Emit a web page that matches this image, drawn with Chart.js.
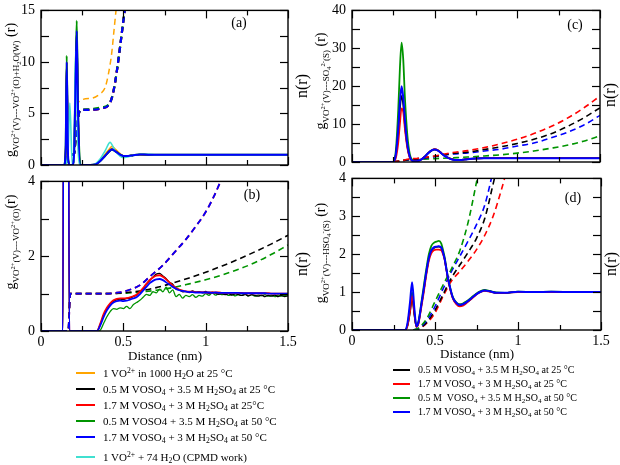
<!DOCTYPE html>
<html><head><meta charset="utf-8">
<script src="https://cdn.jsdelivr.net/npm/chart.js@4.4.1/dist/chart.umd.min.js"></script>
<style>
html,body{margin:0;padding:0;background:#fff;}
#wrap{position:relative;width:620px;height:465px;overflow:hidden;background:#fff;font-family:"Liberation Serif",serif;color:#000;}
#wrap div{font-family:"Liberation Serif",serif;}
canvas{position:absolute;}
.t{position:absolute;white-space:nowrap;line-height:1;}
.rot{transform:translate(-50%,-50%) rotate(-90deg);}
.ctr{transform:translate(-50%,-50%);}
.yt{font-size:14px;}
.yt .sb{font-size:9px;position:relative;top:4px;}
.yt .sb sup,.yt .sb sub{font-size:6.5px;vertical-align:0;position:relative;}
.yt .sb sup{top:-4px;}
.yt .sb sub{top:2px;}
.nr{font-size:16px;}
.pl{font-size:14px;}
.xt{font-size:13px;}
.lg{position:absolute;white-space:nowrap;line-height:1;transform:translateY(-50%);}
.lg sub,.lg sup{vertical-align:0;position:relative;font-size:0.7em;}
.lg sub{top:2px;}
.lg sup{top:-4px;}
.sw{position:absolute;height:2px;}
</style>
</head><body>
<div id="wrap">
<canvas id="ca"></canvas>
<canvas id="cb"></canvas>
<canvas id="cc"></canvas>
<canvas id="cd"></canvas>

<div class="t rot yt" style="left:11px;top:90px;">g<span class="sb">VO<sup>2+</sup>(V)---VO<sup>2+</sup>(O)+H<sub>2</sub>O(W)</span> (r)</div>
<div class="t rot yt" style="left:11px;top:242px;">g<span class="sb">VO<sup>2+</sup>(V)---VO<sup>2+</sup>(O)</span>(r)</div>
<div class="t rot yt" style="left:321px;top:81px;">g<span class="sb">VO<sup>2+</sup>(V)---SO<sub>4</sub><sup>2-</sup>(S)</span> (r)</div>
<div class="t rot yt" style="left:321px;top:253px;">g<span class="sb">VO<sup>2+</sup>(V)---HSO<sub>4</sub><sup>-</sup>(S)</span> (r)</div>

<div class="t rot nr" style="left:302px;top:86px;">n(r)</div>
<div class="t rot nr" style="left:302px;top:264px;">n(r)</div>
<div class="t rot nr" style="left:610px;top:95px;">n(r)</div>
<div class="t rot nr" style="left:611px;top:264px;">n(r)</div>

<div class="t ctr pl" style="left:239px;top:23px;">(a)</div>
<div class="t ctr pl" style="left:252px;top:195px;">(b)</div>
<div class="t ctr pl" style="left:575px;top:25px;">(c)</div>
<div class="t ctr pl" style="left:573px;top:198px;">(d)</div>

<div class="t ctr xt" style="left:165px;top:355px;">Distance (nm)</div>
<div class="t ctr xt" style="left:477px;top:353px;">Distance (nm)</div>

<div id="legL"></div>
<div id="legR"></div>
</div>

<script>
// ---------- tick values / labels ----------
const X_TICKS = [0, 0.5, 1, 1.5];
const X_TICK_LABELS = ['0', '0.5', '1', '1.5'];
const X_MINOR = [0.25, 0.75, 1.25];
const A_Y_TICKS = [0, 5, 10, 15];
const A_Y_LABELS = ['0', '5', '10', '15'];
const A_Y_MINOR = [2.5, 7.5, 12.5];
const B_Y_TICKS = [0, 2, 4];
const B_Y_LABELS = ['0', '2', '4'];
const B_Y_MINOR = [1, 3];
const C_Y_TICKS = [0, 10, 20, 30, 40];
const C_Y_LABELS = ['0', '10', '20', '30', '40'];
const C_Y_MINOR = [5, 15, 25, 35];
const D_Y_TICKS = [0, 1, 2, 3, 4];
const D_Y_LABELS = ['0', '1', '2', '3', '4'];
const D_Y_MINOR = [0.5, 1.5, 2.5, 3.5];

// ---------- panel (a): g(r) VO2+(V)---VO2+(O)+H2O(W) ----------
const A_X = [0, 0.14, 0.15, 0.156, 0.165, 0.175, 0.19, 0.2, 0.21, 0.217, 0.225, 0.24, 0.3, 0.33, 0.36, 0.39, 0.42, 0.43, 0.45, 0.48, 0.5, 0.53, 0.56, 0.6, 0.65, 0.7, 0.8, 1.0, 1.2, 1.5];
const A_BLUE   = [0, 0, 1.5, 10.0, 0.5, 0, 0, 0.8, 8, 13.0, 5, 0, 0, 0.05, 0.4, 0.9, 1.4, 1.5, 1.35, 1.0, 0.88, 0.87, 0.95, 1.02, 1.0, 1.0, 1.0, 1.0, 1.0, 1.0];
const A_GREEN  = [0, 0, 1.8, 10.6, 0.6, 0, 0, 0.9, 8.5, 14.0, 5.3, 0, 0, 0.05, 0.4, 0.9, 1.4, 1.5, 1.35, 1.0, 0.88, 0.87, 0.95, 1.02, 1.0, 1.0, 1.0, 1.0, 1.0, 1.0];
const A_BLACK  = [0, 0, 1.5, 10.0, 0.5, 0, 0, 0.8, 8, 13.0, 5, 0, 0, 0.05, 0.4, 0.9, 1.4, 1.52, 1.36, 1.0, 0.88, 0.87, 0.95, 1.02, 1.0, 1.0, 1.0, 1.0, 1.0, 1.0];
const A_RED    = [0, 0, 1.5, 10.0, 0.5, 0, 0, 0.8, 8, 13.0, 5, 0, 0, 0.05, 0.42, 0.92, 1.45, 1.55, 1.38, 1.0, 0.88, 0.87, 0.95, 1.02, 1.0, 1.0, 1.0, 1.0, 1.0, 1.0];
const A_ORANGE = [0, 0, 1.2, 9.5, 0.4, 0, 0, 0.7, 7.5, 12.5, 4.8, 0, 0, 0.05, 0.45, 1.05, 1.65, 1.8, 1.55, 1.1, 0.9, 0.88, 0.96, 1.03, 1.0, 1.0, 1.0, 1.0, 1.0, 1.0];
const A_CYAN   = [0, 0, 0, 0.3, 1.5, 6.0, 0, 0.5, 11.0, 7, 1.5, 0, 0, 0.1, 0.6, 1.4, 2.2, 2.0, 1.4, 0.85, 0.7, 0.8, 0.95, 1.05, 1.05, 1.0, 1.0, 1.0, 1.0, 1.0];
// n(r), panel (a)
const A_N_X      = [0, 0.155, 0.165, 0.2, 0.21, 0.237, 0.28, 0.37, 0.41, 0.43, 0.45, 0.47, 0.49, 0.51, 0.53];
const A_N_BLUE   = [0, 0, 1, 1, 2.5, 5.3, 5.35, 5.5, 5.8, 6.5, 8.0, 10.2, 12.7, 15.2, 17.5];
const A_N_GREEN  = [0, 0, 1, 1, 2.5, 5.3, 5.4, 5.6, 5.85, 6.5, 8.0, 10.2, 12.7, 15.2, 17.5];
const A_N_ORANGE_X = [0, 0.155, 0.165, 0.2, 0.21, 0.227, 0.297, 0.358, 0.389, 0.409, 0.429, 0.443, 0.455, 0.47];
const A_N_ORANGE   = [0, 0, 1, 1, 2.8, 6.1, 6.45, 6.9, 7.5, 8.8, 10.8, 13.0, 14.9, 17.0];

// ---------- panel (b): g(r) VO2+(V)---VO2+(O) ----------
const B_X = [0, 0.133, 0.15, 0.172, 0.34, 0.36, 0.38, 0.40, 0.42, 0.44, 0.46, 0.48, 0.50, 0.52, 0.54, 0.56, 0.58, 0.60, 0.62, 0.64, 0.66, 0.68, 0.70, 0.72, 0.74, 0.76, 0.78, 0.80, 0.82, 0.84, 0.86, 0.88, 0.90, 0.92, 0.94, 0.96, 0.98, 1.00, 1.02, 1.04, 1.06, 1.08, 1.10, 1.12, 1.14, 1.16, 1.18, 1.20, 1.22, 1.24, 1.26, 1.28, 1.30, 1.32, 1.34, 1.36, 1.38, 1.40, 1.42, 1.44, 1.46, 1.48, 1.50];
const B_BLUE  = [0, 0, 40, 0, 0, 0.15, 0.37, 0.55, 0.68, 0.76, 0.80, 0.81, 0.80, 0.81, 0.84, 0.87, 0.90, 0.98, 1.08, 1.18, 1.28, 1.34, 1.38, 1.39, 1.36, 1.30, 1.24, 1.18, 1.13, 1.09, 1.07, 1.05, 1.04, 1.04, 1.03, 1.03, 1.03, 1.03, 1.03, 1.02, 1.03, 1.02, 1.02, 1.02, 1.02, 1.02, 1.02, 1.02, 1.01, 1.01, 1.01, 1.01, 1.01, 1.01, 1.01, 1.01, 1.0, 1.0, 1.0, 1.0, 1.0, 1.0, 1.0];
const B_RED   = [0, 0, 40, 0, 0, 0.2, 0.45, 0.62, 0.74, 0.82, 0.86, 0.87, 0.87, 0.88, 0.9, 0.93, 0.97, 1.05, 1.15, 1.26, 1.36, 1.43, 1.48, 1.49, 1.45, 1.38, 1.3, 1.22, 1.15, 1.11, 1.08, 1.06, 1.05, 1.05, 1.04, 1.04, 1.04, 1.03, 1.03, 1.03, 1.03, 1.03, 1.02, 1.02, 1.02, 1.02, 1.02, 1.02, 1.02, 1.01, 1.01, 1.01, 1.01, 1.01, 1.01, 1.01, 1.01, 1.0, 1.0, 1.0, 1.0, 1.0, 1.0];
const B_BLACK = [0, 0, 40, 0, 0, 0.18, 0.42, 0.6, 0.72, 0.8, 0.83, 0.85, 0.84, 0.87, 0.88, 0.92, 0.96, 1.04, 1.13, 1.25, 1.35, 1.44, 1.52, 1.54, 1.47, 1.4, 1.3, 1.25, 1.12, 1.1, 1.05, 1.06, 1.03, 1.07, 1.04, 1.05, 1.02, 1.06, 1.0, 1.04, 1.01, 0.98, 1.0, 0.97, 1.0, 0.96, 0.99, 0.97, 0.95, 0.98, 0.94, 0.97, 0.95, 0.93, 0.96, 0.92, 0.95, 0.93, 0.96, 0.92, 0.95, 0.92, 0.94];
const B_GREEN = [0, 0, 40, 0, 0, 0.02, 0.2, 0.38, 0.52, 0.6, 0.58, 0.62, 0.6, 0.66, 0.6, 0.7, 0.76, 0.82, 0.9, 0.98, 0.95, 1.05, 1.02, 1.12, 1.05, 1.17, 1.02, 1.1, 0.92, 0.98, 0.88, 0.95, 0.92, 0.97, 0.9, 0.95, 0.93, 1.0, 0.95, 1.02, 0.96, 1.0, 0.97, 0.99, 0.95, 0.98, 0.94, 0.97, 0.95, 0.98, 0.94, 0.97, 0.93, 0.96, 0.94, 0.97, 0.93, 0.95, 0.92, 0.96, 0.93, 0.95, 0.96];
// n(r), panel (b)
const B_N_X     = [0, 0.165, 0.178, 0.3, 0.4, 0.5, 0.6, 0.7, 0.8, 0.9, 1.0, 1.1, 1.2, 1.3, 1.4, 1.5];
const B_N_BLACK = [0, 0, 1, 1, 1.0, 1.02, 1.07, 1.16, 1.28, 1.42, 1.57, 1.74, 1.92, 2.12, 2.33, 2.56];
const B_N_GREEN = [0, 0, 1, 1, 1.0, 1.01, 1.04, 1.09, 1.16, 1.26, 1.37, 1.5, 1.65, 1.83, 2.05, 2.3];
const B_N_BR_X  = [0, 0.165, 0.178, 0.3, 0.4, 0.45, 0.5, 0.55, 0.6, 0.66, 0.74, 0.82, 0.88, 0.94, 1.0, 1.05, 1.09, 1.13];
const B_N_BLUE  = [0, 0, 1, 1, 1, 1.02, 1.05, 1.12, 1.22, 1.45, 1.76, 2.15, 2.45, 2.8, 3.18, 3.6, 4.0, 4.45];
const B_N_RED   = [0, 0, 1, 1, 1, 1.02, 1.05, 1.12, 1.22, 1.45, 1.76, 2.15, 2.45, 2.8, 3.18, 3.6, 4.0, 4.45];

// ---------- panel (c): g(r) VO2+(V)---SO4 2-(S) ----------
const C_X = [0, 0.25, 0.265, 0.28, 0.29, 0.30, 0.31, 0.32, 0.335, 0.35, 0.365, 0.38, 0.40, 0.42, 0.44, 0.46, 0.48, 0.50, 0.52, 0.54, 0.56, 0.59, 0.62, 0.65, 0.70, 0.75, 0.80, 0.90, 1.0, 1.2, 1.5];
const C_BLUE  = [0, 0, 2, 9, 16, 20, 17, 11, 4.5, 1.3, 0.3, 0.2, 0.3, 0.7, 1.4, 2.3, 3.0, 3.3, 3.0, 2.3, 1.6, 0.9, 0.55, 0.5, 0.75, 0.92, 1.0, 1.02, 1.0, 1.0, 1.0];
const C_GREEN = [0, 0, 3, 14, 25, 31.5, 27, 17, 7, 2, 0.5, 0.2, 0.3, 0.7, 1.4, 2.3, 3.0, 3.35, 3.1, 2.4, 1.7, 1.0, 0.6, 0.55, 0.8, 0.95, 1.0, 1.02, 1.0, 1.0, 1.0];
const C_BLACK = [0, 0, 2, 8, 14, 17.5, 15, 9.5, 4, 1.1, 0.3, 0.2, 0.3, 0.7, 1.4, 2.3, 3.0, 3.3, 3.0, 2.3, 1.6, 0.9, 0.55, 0.5, 0.75, 0.92, 1.0, 1.02, 1.0, 1.0, 1.0];
const C_RED   = [0, 0, 1, 5, 10, 14.2, 13, 8.5, 3.5, 1, 0.3, 0.2, 0.3, 0.7, 1.4, 2.3, 3.0, 3.4, 3.1, 2.4, 1.7, 1.0, 0.6, 0.55, 0.78, 0.93, 1.0, 1.02, 1.0, 1.0, 1.0];
// n(r), panel (c)
const C_N_X     = [0.25, 0.3, 0.35, 0.4, 0.5, 0.6, 0.7, 0.8, 0.9, 1.0, 1.1, 1.2, 1.3, 1.4, 1.5];
const C_N_RED   = [0, 0.4, 0.8, 1.0, 1.6, 2.45, 3.0, 3.8, 4.8, 6.0, 7.5, 9.3, 11.5, 14.2, 17.4];
const C_N_BLACK = [0, 0.3, 0.7, 0.9, 1.5, 2.2, 2.6, 3.3, 4.0, 4.9, 6.0, 7.4, 9.3, 11.6, 14.3];
const C_N_BLUE  = [0, 0.3, 0.6, 0.8, 1.4, 2.05, 2.4, 2.9, 3.4, 4.2, 5.0, 6.3, 7.8, 9.7, 12.3];
const C_N_GREEN = [0, 0.4, 0.6, 0.7, 0.9, 1.1, 1.3, 1.6, 1.9, 2.35, 2.9, 3.6, 4.4, 5.5, 6.9];

// ---------- panel (d): g(r) VO2+(V)---HSO4-(S) ----------
const D_X = [0, 0.32, 0.335, 0.35, 0.362, 0.375, 0.388, 0.40, 0.418, 0.433, 0.448, 0.463, 0.478, 0.493, 0.508, 0.523, 0.538, 0.548, 0.558, 0.568, 0.578, 0.593, 0.608, 0.628, 0.648, 0.668, 0.688, 0.72, 0.748, 0.775, 0.8, 0.83, 0.868, 0.92, 1.0, 1.1, 1.2, 1.35, 1.5];
const D_BLUE  = [0, 0, 0.2, 0.75, 1.26, 0.6, 0.1, 0.2, 0.68, 1.1, 1.54, 1.9, 2.1, 2.18, 2.2, 2.21, 2.18, 2.05, 1.88, 1.62, 1.37, 1.08, 0.85, 0.72, 0.66, 0.68, 0.73, 0.84, 0.94, 1.01, 1.04, 1.02, 0.98, 0.98, 1.01, 1.0, 1.01, 1.0, 1.0];
const D_GREEN = [0, 0, 0.15, 0.6, 1.0, 0.5, 0.1, 0.22, 0.72, 1.18, 1.62, 2.0, 2.22, 2.3, 2.33, 2.35, 2.28, 2.12, 1.92, 1.65, 1.38, 1.08, 0.86, 0.73, 0.68, 0.7, 0.75, 0.86, 0.96, 1.03, 1.06, 1.03, 0.99, 0.98, 1.01, 1.0, 1.01, 1.0, 1.0];
const D_RED   = [0, 0, 0.12, 0.5, 0.9, 0.45, 0.08, 0.15, 0.6, 1.0, 1.45, 1.82, 2.02, 2.1, 2.12, 2.12, 2.1, 2.0, 1.85, 1.6, 1.35, 1.04, 0.82, 0.68, 0.62, 0.64, 0.7, 0.82, 0.93, 1.0, 1.03, 1.01, 0.98, 0.98, 1.0, 1.0, 1.0, 1.0, 1.0];
const D_BLACK = [0, 0, 0.12, 0.48, 0.85, 0.42, 0.08, 0.18, 0.65, 1.06, 1.5, 1.87, 2.08, 2.16, 2.19, 2.2, 2.16, 2.04, 1.87, 1.61, 1.36, 1.06, 0.84, 0.7, 0.64, 0.66, 0.72, 0.83, 0.94, 1.01, 1.04, 1.02, 0.98, 0.98, 1.01, 1.0, 1.0, 1.0, 1.0];
// n(r), panel (d)
const D_N_X     = [0.37, 0.4, 0.45, 0.5, 0.55, 0.6, 0.65, 0.7, 0.75, 0.8, 0.85, 0.9, 0.95];
const D_N_GREEN = [0, 0.05, 0.3, 0.75, 1.2, 1.62, 2.1, 2.85, 3.9, 5.0, 6.2, 7.4, 8.6];
const D_N_BLUE  = [0, 0.04, 0.25, 0.62, 1.1, 1.55, 1.95, 2.35, 2.78, 3.3, 4.2, 5.2, 6.2];
const D_N_BLACK = [0, 0.03, 0.2, 0.52, 0.95, 1.38, 1.72, 2.05, 2.42, 2.95, 3.85, 4.8, 5.8];
const D_N_RED   = [0, 0.02, 0.18, 0.45, 0.9, 1.3, 1.55, 1.82, 2.12, 2.5, 3.0, 3.7, 4.5];

// ---------- legends ----------
const LEG_LEFT = [
  'orange', '1 VO<sup>2+</sup> in 1000 H<sub>2</sub>O at 25 °C',
  'black',  '0.5 M VOSO<sub>4</sub> + 3.5 M H<sub>2</sub>SO<sub>4</sub> at 25 °C',
  'red',    '1.7 M VOSO<sub>4</sub> + 3 M H<sub>2</sub>SO<sub>4</sub> at 25°C',
  'green',  '0.5 M VOSO4 + 3.5 M H<sub>2</sub>SO<sub>4</sub> at 50 °C',
  'blue',   '1.7 M VOSO<sub>4</sub> + 3 M H<sub>2</sub>SO<sub>4</sub> at 50 °C',
  'cyan',   '1 VO<sup>2+</sup> + 74 H<sub>2</sub>O (CPMD work)'
];
const LEG_RIGHT = [
  'black', '0.5 M VOSO<sub>4</sub> + 3.5 M H<sub>2</sub>SO<sub>4</sub> at 25 °C',
  'red',   '1.7 M VOSO<sub>4</sub> + 3 M H<sub>2</sub>SO<sub>4</sub> at 25 °C',
  'green', '0.5 M&nbsp; VOSO<sub>4</sub> + 3.5 M H<sub>2</sub>SO<sub>4</sub> at 50 °C',
  'blue',  '1.7 M VOSO<sub>4</sub> + 3 M H<sub>2</sub>SO<sub>4</sub> at 50 °C'
];

const COL = {orange:'#ffa500', black:'#000000', red:'#ff0000', green:'#009400', blue:'#0000ff', cyan:'#40e0d0'};

function buildLegend(id, items, lineX, lineW, textX, y0, dy, fs){
  const host = document.getElementById(id);
  for (let i = 0; i < items.length; i += 2){
    const y = y0 + (i/2)*dy[i/2];
    const sw = document.createElement('div');
    sw.className = 'sw';
    sw.style.left = lineX + 'px'; sw.style.top = (y - 1) + 'px';
    sw.style.width = lineW + 'px'; sw.style.background = COL[items[i]];
    host.appendChild(sw);
    const tx = document.createElement('div');
    tx.className = 'lg';
    tx.style.left = textX + 'px'; tx.style.top = y + 'px'; tx.style.fontSize = fs + 'px';
    tx.innerHTML = items[i+1];
    host.appendChild(tx);
  }
}
buildLegend('legL', LEG_LEFT, 76, 19, 103, 373, [0,16,16.2,16,15.9,16.7], 11);
buildLegend('legR', LEG_RIGHT, 393, 17, 418, 370, [0,14,14,14], 10);

// ---------- chart helpers ----------
Chart.defaults.font.family = 'Liberation Serif';
Chart.defaults.color = '#000';

function pts(xs, ys){ return xs.map((x, i) => ({x: x, y: ys[i]})); }
function solid(xs, ys, c, w){
  return {data: pts(xs, ys), borderColor: COL[c], borderWidth: w || 1.6, pointRadius: 0, fill: false, cubicInterpolationMode: 'monotone'};
}
function dashed(xs, ys, c, w){
  return {data: pts(xs, ys), borderColor: COL[c], borderWidth: w || 1.8, borderDash: [6, 4], pointRadius: 0, fill: false, cubicInterpolationMode: 'monotone'};
}

const frameTicks = {
  id: 'frameTicks',
  afterDraw(chart, args, o){
    const ctx = chart.ctx, a = chart.chartArea, xs = chart.scales.x, ys = chart.scales.y;
    ctx.save();
    ctx.strokeStyle = '#000'; ctx.lineWidth = 1.2;
    const ln = (x1, y1, x2, y2) => { ctx.beginPath(); ctx.moveTo(x1, y1); ctx.lineTo(x2, y2); ctx.stroke(); };
    const xt = (vals, len) => vals.forEach(v => { const p = Math.round(xs.getPixelForValue(v)) + 0.5; ln(p, a.bottom, p, a.bottom - len); ln(p, a.top, p, a.top + len); });
    const yt = (vals, len) => vals.forEach(v => { const p = Math.round(ys.getPixelForValue(v)) + 0.5; ln(a.left, p, a.left + len, p); ln(a.right, p, a.right - len, p); });
    xt(o.xMajor, 8); xt(o.xMinor, 5); yt(o.yMajor, 8); yt(o.yMinor, 8);
    ctx.lineWidth = 1.4;
    ctx.strokeRect(a.left, a.top, a.right - a.left, a.bottom - a.top);
    ctx.restore();
  }
};

function makePanel(id, g, yMin, yMax, yTicks, yLabels, yMinor, showX, datasets){
  const cv = document.getElementById(id);
  cv.width = g.W; cv.height = g.H;
  cv.style.left = g.L + 'px'; cv.style.top = g.T + 'px';
  cv.style.width = g.W + 'px'; cv.style.height = g.H + 'px';
  const font = {family: 'Liberation Serif', size: 14};
  new Chart(cv, {
    type: 'line',
    data: {datasets: datasets},
    plugins: [frameTicks],
    options: {
      responsive: false, animation: false, devicePixelRatio: 1, events: [],
      layout: {padding: {top: g.pt, right: g.pr, left: 0, bottom: 0}},
      plugins: {legend: {display: false}, tooltip: {enabled: false},
        frameTicks: {xMajor: X_TICKS, xMinor: X_MINOR, yMajor: yTicks, yMinor: yMinor}},
      scales: {
        x: {type: 'linear', min: 0, max: 1.5,
          grid: {display: false, drawTicks: false}, border: {display: false},
          ticks: {display: showX, color: '#000', font: font, padding: 3, maxRotation: 0, autoSkip: false,
            callback: (v, i) => X_TICK_LABELS[i]},
          afterBuildTicks: s => { s.ticks = X_TICKS.map(v => ({value: v})); },
          afterFit: s => { s.height = g.xh; }},
        y: {type: 'linear', min: yMin, max: yMax,
          grid: {display: false, drawTicks: false}, border: {display: false},
          ticks: {color: '#000', font: font, padding: 6, autoSkip: false,
            callback: (v, i) => yLabels[i]},
          afterBuildTicks: s => { s.ticks = yTicks.map(v => ({value: v})); },
          afterFit: s => { s.width = g.yw; }}
      }
    }
  });
}

// (a) plot area 41..288 x 6..165
makePanel('ca', {L: 0, T: -4, W: 300, H: 184, pt: 10, pr: 12, xh: 15, yw: 41},
  0, 15, A_Y_TICKS, A_Y_LABELS, A_Y_MINOR, false, [
    solid(A_X, A_BLUE, 'blue', 2),
    solid(A_X, A_CYAN, 'cyan', 1.6),
    solid(A_X, A_GREEN, 'green', 2),
    solid(A_X, A_RED, 'red', 1.6),
    solid(A_X, A_BLACK, 'black', 1.6),
    solid(A_X, A_ORANGE, 'orange', 1.6),
    dashed(A_N_X, A_N_BLUE, 'blue', 2.2),
    dashed(A_N_X, A_N_GREEN, 'green', 2.2),
    dashed(A_N_X, A_N_BLUE, 'red', 2.2),
    dashed(A_N_X, A_N_BLUE, 'black', 2.2),
    dashed(A_N_ORANGE_X, A_N_ORANGE, 'orange', 1.5)
  ]);

// (b) plot area 41..288 x 177..331
makePanel('cb', {L: 0, T: 167, W: 300, H: 184, pt: 10, pr: 12, xh: 20, yw: 41},
  0, 4, B_Y_TICKS, B_Y_LABELS, B_Y_MINOR, true, [
    solid(B_X, B_BLUE, 'blue', 1.8),
    solid(B_X, B_RED, 'red', 1.8),
    solid(B_X, B_BLACK, 'black', 1.3),
    solid(B_X, B_GREEN, 'green', 1.3),
    dashed(B_N_BR_X, B_N_BLUE, 'blue', 1.8),
    dashed(B_N_BR_X, B_N_RED, 'red', 1.8),
    dashed(B_N_X, B_N_BLACK, 'black', 1.6),
    dashed(B_N_X, B_N_GREEN, 'green', 1.6)
  ]);

// (c) plot area 352..600 x 6..162
makePanel('cc', {L: 310, T: -4, W: 310, H: 181, pt: 10, pr: 20, xh: 15, yw: 42},
  0, 40, C_Y_TICKS, C_Y_LABELS, C_Y_MINOR, false, [
    solid(C_X, C_BLUE, 'blue', 2),
    solid(C_X, C_RED, 'red', 1.6),
    solid(C_X, C_BLACK, 'black', 1.6),
    solid(C_X, C_GREEN, 'green', 1.8),
    dashed(C_N_X, C_N_RED, 'red', 1.6),
    dashed(C_N_X, C_N_BLACK, 'black', 1.6),
    dashed(C_N_X, C_N_BLUE, 'blue', 1.6),
    dashed(C_N_X, C_N_GREEN, 'green', 1.6)
  ]);

// (d) plot area 352..601 x 174..330
makePanel('cd', {L: 310, T: 164, W: 310, H: 186, pt: 10, pr: 19, xh: 20, yw: 42},
  0, 4, D_Y_TICKS, D_Y_LABELS, D_Y_MINOR, true, [
    solid(D_X, D_BLUE, 'blue', 2),
    solid(D_X, D_RED, 'red', 1.6),
    solid(D_X, D_BLACK, 'black', 1.6),
    solid(D_X, D_GREEN, 'green', 1.8),
    dashed(D_N_X, D_N_GREEN, 'green', 1.6),
    dashed(D_N_X, D_N_BLUE, 'blue', 1.6),
    dashed(D_N_X, D_N_BLACK, 'black', 1.6),
    dashed(D_N_X, D_N_RED, 'red', 1.6)
  ]);
</script>
</body></html>
